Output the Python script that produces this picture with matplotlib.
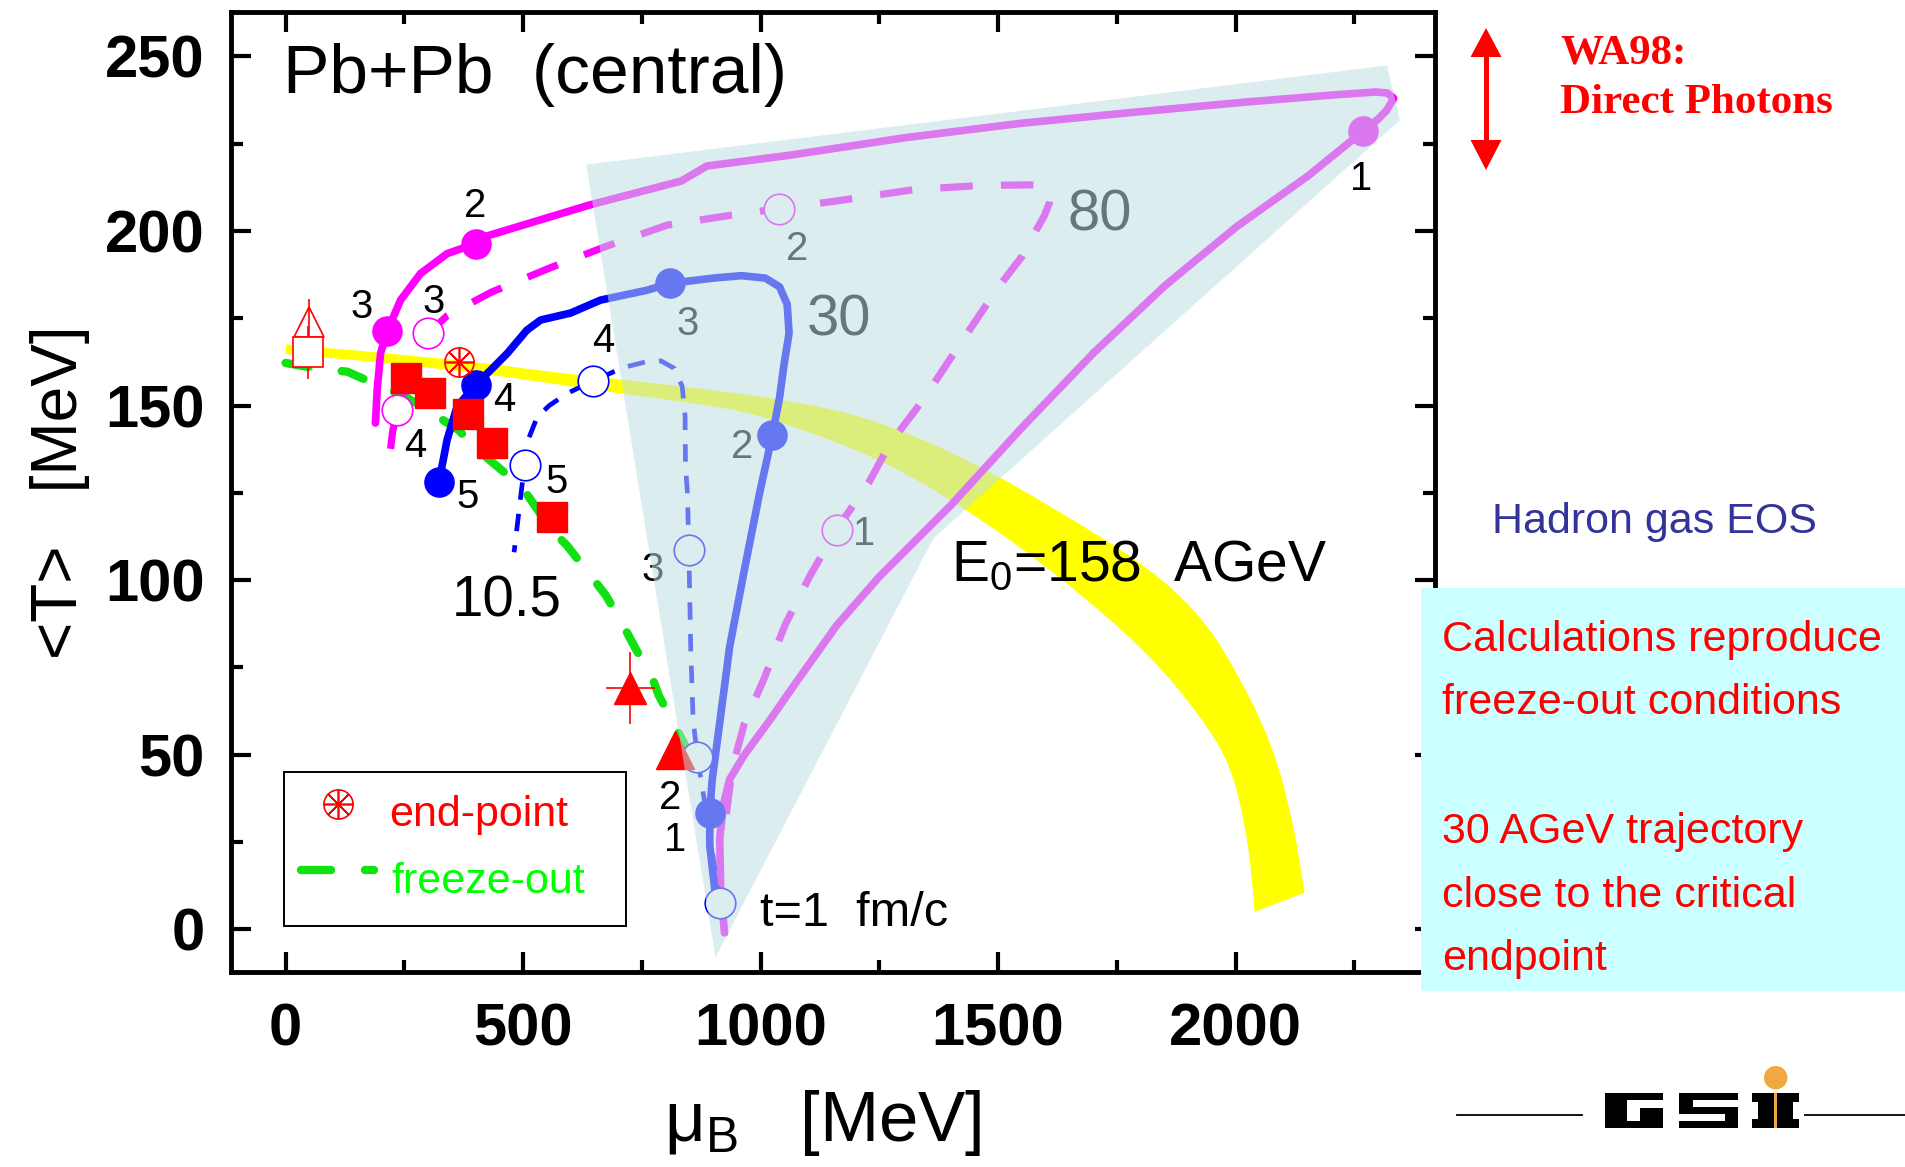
import matplotlib
matplotlib.use("Agg")
import matplotlib.pyplot as plt
from matplotlib.font_manager import fontManager
from matplotlib.patches import Polygon, Rectangle, Circle, PathPatch
from matplotlib.path import Path
from matplotlib.lines import Line2D
from matplotlib.transforms import Affine2D
from matplotlib.ticker import MultipleLocator

# ---------------------------------------------------------------
# Fireball trajectories in the (mu_B, <T>) plane, Pb+Pb central
# ---------------------------------------------------------------
# E0 = 158 AGeV (solid)
mu_158 = [924, 916, 914, 922, 935, 966, 1020, 1071, 1160, 1250, 1401, 1551,
          1702, 1852, 2002, 2153, 2268, 2300, 2318, 2333, 2320, 2295, 2211,
          2029, 1787, 1546, 1304, 1062, 887, 833, 639, 425, 400, 340, 284, 242,
          214, 200, 193, 189]
T_158 = [-1, 12, 26, 36, 43, 50, 60, 70, 87, 101, 121.5, 143.8,
         165.2, 184.4, 201.2, 215.8, 228.5, 232, 234.5, 238, 239.5, 239.8, 239,
         237, 234, 230.8, 226.7, 221.7, 218.6, 214.3, 207.4, 198.6, 196.4,
         193.5, 187.8, 180.2, 171.3, 165, 155, 145]

# E0 = 80 AGeV (dashed)
mu_80 = [928, 940, 966, 1008, 1051, 1103, 1160, 1228, 1273, 1341, 1416, 1499,
         1551, 1581, 1598, 1608, 1610, 1602, 1585, 1566, 1461, 1326, 1171, 1039,
         937, 804, 677, 558, 432, 340, 300, 265, 235, 225, 221]
T_80 = [33, 46, 59, 72, 87, 101, 114.5, 128, 139.2, 151.4, 166.8, 183.6,
        192.8, 200.4, 204.5, 208, 210.5, 212.3, 213.1, 213.2, 213, 211.9, 208.8,
        206.4, 204.5, 201.7, 195.7, 189.5, 182.4, 175.7, 170.7, 160, 148.7,
        142.3, 137.6]

# E0 = 30 AGeV (solid)
mu_30 = [904, 893, 893, 898, 914, 935, 966, 998, 1025, 1040, 1049, 1060, 1056,
         1040, 1010, 960, 900, 810, 760, 663, 600, 537, 508, 467, 432, 400,
         361, 340, 323]
T_30 = [11, 24, 33.4, 42.7, 59.2, 81, 103, 125, 141.7, 152.3, 161.4, 170.7, 179,
        184, 186.5, 187.2, 186.5, 185, 183, 180.2, 176.5, 174.5, 171.6, 165,
        160.2, 155.9, 149.7, 140.2, 128.2]

# E0 = 10.5 AGeV (thin dashed)
mu_105 = [914, 890, 867, 858, 853, 849, 846, 842, 841, 835, 818, 790, 761,
          720, 691, 647, 593, 555, 530, 510, 503, 495, 488, 481]
T_105 = [7.7, 30, 49.3, 60, 80, 108.5, 125, 132.5, 147, 155.5, 160.7, 162.8,
         162.6, 161.2, 159.7, 157, 153.5, 150, 146.8, 140, 133, 124, 116, 108]

# time marks (fm/c) along each trajectory
step_158_mu = [2268, 400, 214]
step_158_T = [228.5, 196.4, 171.3]
step_80_mu = [1160, 1039, 300, 235]
step_80_T = [114.5, 206.4, 170.7, 148.7]
step_30_mu = [893, 1025, 810, 400, 323]
step_30_T = [33.4, 141.7, 185, 155.9, 128.2]
step_105_mu = [914, 867, 849, 647, 503]
step_105_T = [7.7, 49.3, 108.5, 157, 133]

# chemical freeze-out curve
mu_fo = [0, 67, 130, 193, 249, 309, 364, 404, 463, 509, 561, 592, 630, 674,
         707, 738, 771, 786, 809, 840]
T_fo = [162.2, 160.6, 159.7, 155.9, 152.8, 147.8, 143, 137.3, 130.6, 124.4,
        114.2, 110, 103.4, 95.7, 88, 80.1, 72.4, 66.9, 61, 53]

# phase boundary band (upper / lower edges)
band_hi_mu = [0, 326, 606, 684, 900, 1103, 1250, 1438, 1626, 1814, 1927, 2002,
              2078, 2123, 2145]
band_hi_T = [167.5, 163.8, 158.8, 157.8, 154.5, 150.5, 145.5, 134.5, 120, 104,
             90, 74, 53, 30, 10.5]
band_lo_mu = [0, 326, 606, 684, 900, 1019, 1250, 1438, 1626, 1814, 1927, 1990,
              2020, 2035, 2040]
band_lo_T = [164.8, 160.8, 155.5, 153.8, 150, 146.5, 135, 120, 101.5, 79.5, 61,
             47, 30, 15, 5]

# region probed by direct photons
region_mu = [633, 2319, 2346, 1364, 905]
region_T = [219, 247.4, 231.7, 112, -8]

# measured freeze-out points
sq_mu = [253, 305, 385, 434, 560]
sq_T = [157.9, 153.5, 147.7, 139.2, 118.0]
tri_mu = [726]
tri_T = [69]
tri_mu_err = [52]
tri_T_err = [10.3]
tri2_mu = [820]
tri2_T = [51.5]
open_tri_mu, open_tri_T, open_tri_err = [50], [174], [6.5]
open_sq_mu, open_sq_T, open_sq_err = [48], [165.2], [7.5]
endpoint_mu, endpoint_T = [366], [162.5]

x_ticks = [0, 500, 1000, 1500, 2000]
y_ticks = [0, 50, 100, 150, 200, 250]

# ---------------------------------------------------------------
installed = {f.name for f in fontManager.ttflist}
SANS = ['Liberation Sans', 'DejaVu Sans']
if 'Liberation Sans Narrow' in installed:
    NARROW, ns = ['Liberation Sans Narrow', 'DejaVu Sans'], 1.0
else:
    NARROW, ns = SANS, 0.85
SERIF = ['Liberation Serif', 'DejaVu Serif']
plt.rcParams['font.family'] = SANS
plt.rcParams['mathtext.default'] = 'regular'

MAG = '#ff00ff'
BLUE = '#0000ff'
GREEN = '#11e011'
RED = '#ff0000'

W, H = 1905, 1167
fig = plt.figure(figsize=(W / 100, H / 100), dpi=100)
PX = Affine2D().scale(1 / W, 1 / H) + fig.transFigure  # pixels, y up

ax = fig.add_axes([231 / W, 1 - 972 / H, (1435 - 231) / W, (972 - 12) / H])
ax.set_xlim(-115, 2420)
ax.set_ylim(-12.2, 262.7)


def smooth_edge(xs, ys):
    """Quadratic Bezier chain through the edge points (midpoint scheme)."""
    verts, codes = [], []
    for i in range(1, len(xs) - 1):
        verts += [(xs[i], ys[i]), ((xs[i] + xs[i + 1]) / 2, (ys[i] + ys[i + 1]) / 2)]
        codes += [Path.CURVE3, Path.CURVE3]
    verts.append((xs[-1], ys[-1]))
    codes.append(Path.LINETO)
    return verts, codes


# phase boundary band
v_hi, c_hi = smooth_edge(band_hi_mu, band_hi_T)
v_lo, c_lo = smooth_edge(band_lo_mu[::-1], band_lo_T[::-1])
band_verts = [(band_hi_mu[0], band_hi_T[0])] + v_hi + [(band_lo_mu[-1], band_lo_T[-1])] \
    + v_lo + [(0, 0)]
band_codes = [Path.MOVETO] + c_hi + [Path.LINETO] + c_lo + [Path.CLOSEPOLY]
ax.add_patch(PathPatch(Path(band_verts, band_codes), fc='#ffff00', ec='none',
                       zorder=1))

# freeze-out line
ax.plot(mu_fo, T_fo, color=GREEN, lw=6, dashes=(2.8, 4.0), dash_capstyle='round',
        zorder=2)

# trajectories
ax.plot(mu_158, T_158, color=MAG, lw=5.5, solid_joinstyle='round',
        solid_capstyle='round', zorder=3)
ax.plot(mu_80, T_80, color=MAG, lw=5.2, dashes=(4.5, 3.9), zorder=3)
ax.plot(mu_30, T_30, color=BLUE, lw=5.5, solid_joinstyle='round',
        solid_capstyle='round', zorder=3)
ax.plot(mu_105, T_105, color=BLUE, lw=3.4, dashes=(3.7, 3.0), zorder=3)

# time marks
ax.plot(step_158_mu, step_158_T, 'o', ms=21, color=MAG, zorder=4)
ax.plot(step_30_mu, step_30_T, 'o', ms=21, color=BLUE, zorder=4)
ax.plot(step_80_mu, step_80_T, 'o', ms=22, mfc='white', mec=MAG, mew=1.2, zorder=4)
ax.plot(step_105_mu, step_105_T, 'o', ms=22, mfc='white', mec=BLUE, mew=1.2, zorder=4)

# data points
ax.errorbar(sq_mu, sq_T, yerr=2.5, fmt='s', ms=22, color=RED, elinewidth=1.2,
            capsize=0, zorder=4)
ax.errorbar(tri_mu, tri_T, xerr=tri_mu_err, yerr=tri_T_err, fmt='^', ms=23,
            color=RED, elinewidth=1.2, capsize=0, zorder=4)
ax.plot(tri2_mu, tri2_T, '^', ms=28, color=RED, zorder=4)
ax.errorbar(open_tri_mu, open_tri_T, yerr=open_tri_err, fmt='^', ms=22,
            mfc='none', mec=RED, mew=1.2, ecolor=RED, elinewidth=1.2, capsize=0,
            zorder=4)
ax.errorbar(open_sq_mu, open_sq_T, yerr=open_sq_err, fmt='s', ms=21,
            mfc='white', mec=RED, mew=1.2, ecolor=RED, elinewidth=1.2, capsize=0,
            zorder=4)
for mk in ('o', (8, 2, 0)):
    ax.plot(endpoint_mu, endpoint_T, marker=mk, ms=21, mfc='none', mec=RED,
            mew=1.2, ls='none', zorder=4)

# time labels next to the marks
step_labels = [
    (2265, 216, '1'), (398, 208.3, '2'), (161, 179.3, '3'),
    (1218, 114.5, '1'), (1077, 195.9, '2'), (312, 180.7, '3'), (272, 139.7, '4'),
    (820, 26.8, '1'), (961, 139.2, '2'), (846, 174.5, '3'), (460, 152.6, '4'),
    (382, 124.9, '5'),
    (809, 38.9, '2'), (773, 104.1, '3'), (669, 169.5, '4'), (571, 129.2, '5'),
]
for x, y, s in step_labels:
    ax.text(x, y, s, fontsize=34 * ns, family=NARROW, ha='center',
            va='center_baseline', zorder=4.5)

ax.text(349, 89.6, '10.5', fontsize=48 * ns, family=NARROW, ha='left',
        va='baseline', zorder=4.5)
ax.text(1165, 176.2, '30', fontsize=49 * ns, family=NARROW, ha='center',
        va='center_baseline', zorder=4.5)
ax.text(1715, 206.1, '80', fontsize=49 * ns, family=NARROW, ha='center',
        va='center_baseline', zorder=4.5)

# photon region overlay
region = Polygon(list(zip(region_mu, region_T)), closed=True,
                 fc=(190 / 255, 222 / 255, 227 / 255), alpha=0.54, ec='none',
                 zorder=6)
ax.add_patch(region)

ax.text(1401, 99.7, 'E$_0$=158  AGeV', fontsize=41, ha='left', va='baseline',
        zorder=7)
ax.text(998, 1.1, 't=1  fm/c', fontsize=35, ha='left', va='baseline', zorder=7)
ax.text(0.0432, 0.9156, 'Pb+Pb  (central)', transform=ax.transAxes,
        fontsize=50, ha='left', va='baseline', zorder=7)

# legend box
ax.add_patch(Rectangle((-2.5, 0.86), 719.5, 44.3, fill=False, ec='black',
                       lw=1.4, zorder=7))
for mk in ('o', (8, 2, 0)):
    ax.plot([110], [35.9], marker=mk, ms=21, mfc='none', mec=RED, mew=1.2,
            ls='none', zorder=7)
ax.text(217, 29.5, 'end-point', fontsize=31, color=RED, ha='left',
        va='baseline', zorder=7)
ax.plot([33, 95], [16.9, 16.9], color=GREEN, lw=6, solid_capstyle='round',
        zorder=7)
ax.plot([168, 187], [16.9, 16.9], color=GREEN, lw=6, solid_capstyle='round',
        zorder=7)
ax.text(223, 10.3, 'freeze-out', fontsize=31, color='#00ff00', ha='left',
        va='baseline', zorder=7)

# axes, ticks and labels
ax.set_xticks(x_ticks)
ax.set_yticks(y_ticks)
ax.xaxis.set_minor_locator(MultipleLocator(250))
ax.yaxis.set_minor_locator(MultipleLocator(25))
ax.tick_params(which='both', direction='in', top=True, right=True, width=3)
ax.tick_params(which='major', length=14.5, labelsize=43)
ax.tick_params(which='minor', length=8.6)
ax.tick_params(axis='x', which='major', pad=22)
ax.tick_params(axis='y', which='major', pad=19)
for t in ax.get_xticklabels() + ax.get_yticklabels():
    t.set_fontweight('bold')
for sp in ax.spines.values():
    sp.set_linewidth(3.5)

ax.set_xlabel('μ$_B$   [MeV]', fontsize=51, va='baseline')
ax.xaxis.set_label_coords(0.4915, -0.176)
ax.set_ylabel('<T>   [MeV]', fontsize=46, va='center')
ax.yaxis.set_label_coords(-0.142, 0.5)


# ---------------- annotations beside the plot ----------------
def ptxt(x, y, s, **kw):
    fig.text(x, H - y, s, transform=PX, va='baseline', ha='left', zorder=11, **kw)


def prect(x0, y0, w, h, color, z=11):
    fig.add_artist(Rectangle((x0, H - y0 - h), w, h, fc=color, ec='none',
                             transform=PX, zorder=z))


# double arrow
ax_x = 1486
fig.add_artist(Polygon([(ax_x, H - 28), (ax_x - 15.5, H - 57), (ax_x + 15.5, H - 57)],
                       closed=True, fc=RED, ec='none', transform=PX, zorder=11))
prect(ax_x - 2.5, 56, 5, 85, RED)
fig.add_artist(Polygon([(ax_x, H - 170), (ax_x - 15.5, H - 140), (ax_x + 15.5, H - 140)],
                       closed=True, fc=RED, ec='none', transform=PX, zorder=11))
ptxt(1560, 63, 'WA98:', fontsize=31, color=RED, family=SERIF, weight='bold')
ptxt(1560, 113, 'Direct Photons', fontsize=31, color=RED, family=SERIF,
     weight='bold')

ptxt(1492, 533, 'Hadron gas EOS', fontsize=38 if ns == 1.0 else 31,
     color='#333399', family=NARROW)

prect(1421, 588, W - 1421, 991 - 588, '#ccffff', z=10)
box_lines = [(651, 'Calculations reproduce'), (714, 'freeze-out conditions'),
             (843, '30 AGeV trajectory'), (907, 'close to the critical'),
             (970, 'endpoint')]
for y, s in box_lines:
    ptxt(1442, y, s, fontsize=37 if ns == 1.0 else 31, color=RED, family=NARROW)

# GSI logo: block letters built from rectangles
# G
prect(1605, 1093, 58, 35, 'black')
prect(1627, 1100, 36, 8, 'white', z=11.5)
prect(1627, 1108, 13, 13, 'white', z=11.5)
# S
prect(1679, 1093, 59, 35, 'black')
prect(1693, 1100, 45, 7, 'white', z=11.5)
prect(1679, 1114, 46, 7, 'white', z=11.5)
# I
prect(1752, 1093, 47, 9, 'black')
prect(1752, 1119, 47, 9, 'black')
prect(1758, 1093, 35, 35, 'black')
prect(1774.2, 1093, 3, 35, '#f0a840', z=12)
fig.add_artist(Circle((1775.7, H - 1077.7), 11.7, fc='#f0a840', ec='none',
                      transform=PX, zorder=12))
fig.add_artist(Line2D([1457, 1582], [H - 1115, H - 1115], color='black', lw=1.3,
                      transform=PX, zorder=11))
fig.add_artist(Line2D([1805, 1905], [H - 1115, H - 1115], color='black', lw=1.3,
                      transform=PX, zorder=11))

fig.savefig('out.png', dpi=100, facecolor='white')
